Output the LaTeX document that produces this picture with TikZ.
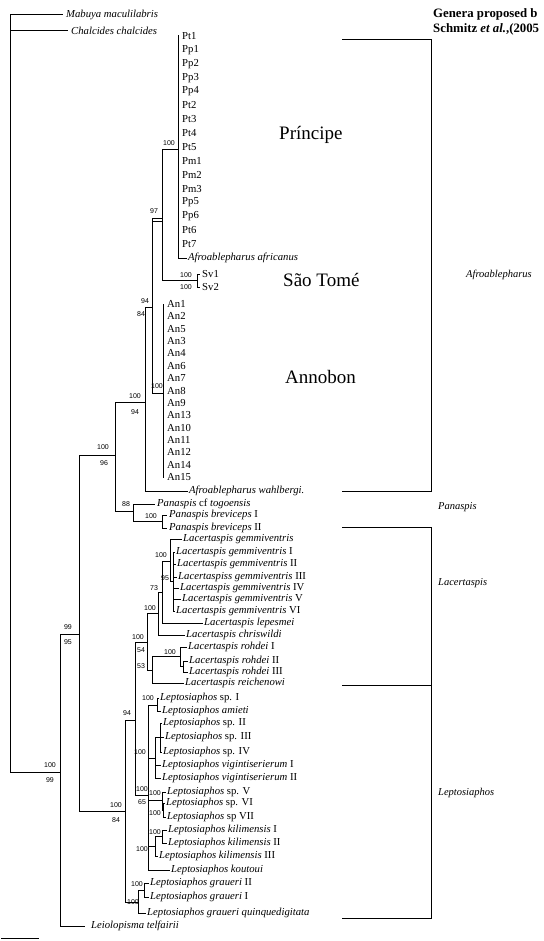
\documentclass[tikz,border=0pt]{standalone}
\usepackage{fontspec}
\setmainfont{Liberation Serif}
\newfontfamily\suppfont{Liberation Sans}
\usetikzlibrary{positioning}

\tikzset{
  branch/.style={line width=1pt, line cap=rect},
  leaf/.style={anchor=west, inner sep=0pt, font=\fontsize{10.7}{12}\selectfont},
  supp/.style={inner sep=0pt, font=\suppfont\fontsize{7}{8}\selectfont},
  island/.style={anchor=west, inner sep=0pt, font=\fontsize{19}{22}\selectfont},
  genus/.style={anchor=west, inner sep=0pt, font=\itshape\fontsize{10.5}{12}\selectfont},
  header/.style={anchor=west, inner sep=0pt, font=\bfseries\fontsize{12.8}{14}\selectfont},
}

\begin{document}
\begin{tikzpicture}[x=1pt,y=-1pt]
\useasboundingbox (0,0) rectangle (543,941);
\clip (0,0) rectangle (543,941);
\fill[white] (0,0) rectangle (543,941);

% internal nodes
\coordinate (root) at (10,400);
\coordinate (Q) at (60,772);
\coordinate (P) at (79,634);
\coordinate (T) at (115,455);
\coordinate (U) at (145,402);
\coordinate (V) at (152,307);
\coordinate (W) at (162,219);
\coordinate (X) at (178,150);
\coordinate (ST) at (197,280);
\coordinate (Z) at (163,393);
\coordinate (Pa) at (133,511);
\coordinate (Pb) at (162,521);
\coordinate (M) at (125,811);
\coordinate (N) at (135,720);
\coordinate (K) at (147,642);
\coordinate (K1) at (158,613);
\coordinate (K2) at (162,592);
\coordinate (K3) at (170,561);
\coordinate (K4) at (173,581);
\coordinate (R) at (152,670);
\coordinate (R1) at (180,656);
\coordinate (R2) at (183,666);
\coordinate (L) at (148,795);
\coordinate (A1) at (157,705);
\coordinate (B) at (155,758);
\coordinate (B1) at (160,737);
\coordinate (C) at (162,800);
\coordinate (C1) at (163,810);
\coordinate (D) at (155,846);
\coordinate (D1) at (162,836);
\coordinate (G) at (138,902);
\coordinate (G1) at (144,890);

% tips
\coordinate (mab) at (62,15);
\coordinate (chal) at (67,31);
\coordinate (leio) at (84,926);
\coordinate (wahl) at (187,491);
\coordinate (prtop) at (178,36);
\coordinate (afr) at (186,258);
\coordinate (sv1) at (199,274);
\coordinate (sv2) at (199,287);
\coordinate (antop) at (163,304);
\coordinate (anbot) at (163,477);
\coordinate (togo) at (154,504);
\coordinate (brI) at (166,515);
\coordinate (brII) at (166,528);
\coordinate (gem) at (181,539);
\coordinate (gI) at (174,552);
\coordinate (gII) at (175,564);
\coordinate (gIII) at (176,577);
\coordinate (gIV) at (178,588);
\coordinate (gV) at (180,599);
\coordinate (gVI) at (174,611);
\coordinate (lepe) at (202,623);
\coordinate (chris) at (184,635);
\coordinate (rohI) at (186,647);
\coordinate (rohII) at (187,661);
\coordinate (rohIII) at (187,672);
\coordinate (reich) at (183,683);
\coordinate (spI) at (158,698);
\coordinate (amie) at (160,711);
\coordinate (spII) at (161,723);
\coordinate (spIII) at (163,737);
\coordinate (spIV) at (161,752);
\coordinate (vigI) at (160,765);
\coordinate (vigII) at (160,778);
\coordinate (spV) at (165,792);
\coordinate (spVI) at (164,803);
\coordinate (spVII) at (165,817);
\coordinate (kilI) at (166,830);
\coordinate (kilII) at (166,843);
\coordinate (kilIII) at (157,856);
\coordinate (kout) at (169,870);
\coordinate (grII) at (148,883);
\coordinate (grI) at (148,897);
\coordinate (quinq) at (145,913);

% branches
\draw[branch] (root) |- (mab) (root) |- (chal) (root) |- (Q);
\draw[branch] (Q) |- (P) (Q) |- (leio);
\draw[branch] (P) |- (T) (P) |- (M);
\draw[branch] (T) |- (U) (T) |- (Pa);
\draw[branch] (U) |- (V) (U) |- (wahl);
\draw[branch] (V) |- (W) (V) |- (Z);
\draw[branch] (V |- W) ++(0,3) -- ++(10,0);
\draw[branch] (W) |- (X) (W) |- (ST);
\draw[branch] (X) -- (prtop) (X) |- (afr);
\draw[branch] (ST) |- (sv1) (ST) |- (sv2);
\draw[branch] (antop) -- (anbot);
\draw[branch] (Pa) |- (togo) (Pa) |- (Pb);
\draw[branch] (Pb) |- (brI) (Pb) |- (brII);
\draw[branch] (M) |- (N) (M) |- (G);
\draw[branch] (N) |- (K) (N) |- (L);
\draw[branch] (K) |- (K1) (K) |- (R);
\draw[branch] (K1) |- (K2) (K1) |- (chris);
\draw[branch] (K2) |- (K3) (K2) |- (lepe);
\draw[branch] (K3) |- (gem) (K3) |- (K4);
\foreach \t in {gI,gII,gIII,gIV,gV,gVI} \draw[branch] (K4) |- (\t);
\draw[branch] (R) |- (R1) (R) |- (reich);
\draw[branch] (R1) |- (rohI) (R1) |- (R2);
\draw[branch] (R2) |- (rohII) (R2) |- (rohIII);
\foreach \t in {A1,B,C,D,kout} \draw[branch] (L) |- (\t);
\draw[branch] (A1) |- (spI) (A1) |- (amie);
\foreach \t in {B1,vigI,vigII} \draw[branch] (B) |- (\t);
\foreach \t in {spII,spIII,spIV} \draw[branch] (B1) |- (\t);
\draw[branch] (C) |- (spV) (C) |- (C1);
\draw[branch] (C1) |- (spVI) (C1) |- (spVII);
\draw[branch] (D) |- (D1) (D) |- (kilIII);
\draw[branch] (D1) |- (kilI) (D1) |- (kilII);
\draw[branch] (G) |- (G1) (G) |- (quinq);
\draw[branch] (G1) |- (grII) (G1) |- (grI);

% leaf labels
\node[leaf, right=4pt of mab] (lmab) {\textit{Mabuya maculilabris}};
\node[leaf, right=4pt of chal] (lchal) {\textit{Chalcides chalcides}};
\foreach \lab [count=\i from 0] in {Pt1,Pp1,Pp2,Pp3,Pp4,Pt2,Pt3,Pt4,Pt5,Pm1,Pm2,Pm3,Pp5,Pp6,Pt6,Pt7}
  \node[leaf] (l\lab) at (182,{36+13.87*\i}) {\lab};
\node[leaf, right=2pt of afr] (lafr) {\textit{Afroablepharus africanus}};
\node[leaf, right=3pt of sv1] (lsv1) {Sv1};
\node[leaf, right=3pt of sv2] (lsv2) {Sv2};
\foreach \lab [count=\i from 0] in {An1,An2,An5,An3,An4,An6,An7,An8,An9,An13,An10,An11,An12,An14,An15}
  \node[leaf] (l\lab) at (167,{304+12.36*\i}) {\lab};
\node[leaf, right=2pt of wahl] (lwahl) {\textit{Afroablepharus wahlbergi.}};
\node[leaf, right=3pt of togo] (ltogo) {\textit{Panaspis} cf \textit{togoensis}};
\node[leaf, right=3pt of brI] (lbrI) {\textit{Panaspis breviceps} I};
\node[leaf, right=3pt of brII] (lbrII) {\textit{Panaspis breviceps} II};
\node[leaf, right=2pt of gem] (lgem) {\textit{Lacertaspis gemmiventris}};
\node[leaf, right=2pt of gI] (lgI) {\textit{Lacertaspis gemmiventris} I};
\node[leaf, right=2pt of gII] (lgII) {\textit{Lacertaspis gemmiventris} II};
\node[leaf, right=2pt of gIII] (lgIII) {\textit{Lacertaspiss gemmiventris} III};
\node[leaf, right=2pt of gIV] (lgIV) {\textit{Lacertaspis gemmiventris} IV};
\node[leaf, right=2pt of gV] (lgV) {\textit{Lacertaspis gemmiventris} V};
\node[leaf, right=2pt of gVI] (lgVI) {\textit{Lacertaspis gemmiventris} VI};
\node[leaf, right=2pt of lepe] (llepe) {\textit{Lacertaspis lepesmei}};
\node[leaf, right=2pt of chris] (lchris) {\textit{Lacertaspis chriswildi}};
\node[leaf, right=2pt of rohI] (lrohI) {\textit{Lacertaspis rohdei} I};
\node[leaf, right=2pt of rohII] (lrohII) {\textit{Lacertaspis rohdei} II};
\node[leaf, right=2pt of rohIII] (lrohIII) {\textit{Lacertaspis rohdei} III};
\node[leaf, right=2pt of reich] (lreich) {\textit{Lacertaspis reichenowi}};
\node[leaf, right=2pt of spI] (lspI) {\textit{Leptosiaphos} sp. I};
\node[leaf, right=2pt of amie] (lamie) {\textit{Leptosiaphos amieti}};
\node[leaf, right=2pt of spII] (lspII) {\textit{Leptosiaphos} sp. II};
\node[leaf, right=2pt of spIII] (lspIII) {\textit{Leptosiaphos} sp. III};
\node[leaf, right=2pt of spIV] (lspIV) {\textit{Leptosiaphos} sp. IV};
\node[leaf, right=2pt of vigI] (lvigI) {\textit{Leptosiaphos vigintiserierum} I};
\node[leaf, right=2pt of vigII] (lvigII) {\textit{Leptosiaphos vigintiserierum} II};
\node[leaf, right=2pt of spV] (lspV) {\textit{Leptosiaphos} sp. V};
\node[leaf, right=2pt of spVI] (lspVI) {\textit{Leptosiaphos} sp. VI};
\node[leaf, right=2pt of spVII] (lspVII) {\textit{Leptosiaphos} sp VII};
\node[leaf, right=2pt of kilI] (lkilI) {\textit{Leptosiaphos kilimensis} I};
\node[leaf, right=2pt of kilII] (lkilII) {\textit{Leptosiaphos kilimensis} II};
\node[leaf, right=2pt of kilIII] (lkilIII) {\textit{Leptosiaphos kilimensis} III};
\node[leaf, right=2pt of kout] (lkout) {\textit{Leptosiaphos koutoui}};
\node[leaf, right=2pt of grII] (lgrII) {\textit{Leptosiaphos graueri} II};
\node[leaf, right=2pt of grI] (lgrI) {\textit{Leptosiaphos graueri} I};
\node[leaf, right=2pt of quinq] (lquinq) {\textit{Leptosiaphos graueri quinquedigitata}};
\node[leaf, right=7pt of leio] (lleio) {\textit{Leiolopisma telfairii}};

% support values
\node[supp] (sX) at (169,143) {100};
\node[supp] (sW) at (154,211) {97};
\node[supp] (sST1) at (186,275) {100};
\node[supp] (sST2) at (186,287) {100};
\node[supp] (sV1) at (145,301) {94};
\node[supp] (sV2) at (141,314) {84};
\node[supp] (sZ) at (157,386) {100};
\node[supp] (sU1) at (135,396) {100};
\node[supp] (sU2) at (135,412) {94};
\node[supp] (sT1) at (103,447) {100};
\node[supp] (sT2) at (104,463) {96};
\node[supp] (sPa) at (126,504) {88};
\node[supp] (sPb) at (151,516) {100};
\node[supp] (sK3) at (161,555) {100};
\node[supp] (sK4) at (165,578) {95};
\node[supp] (sK2) at (154,588) {73};
\node[supp] (sK1) at (150,608) {100};
\node[supp] (sK) at (138,637) {100};
\node[supp] (sK') at (141,650) {54};
\node[supp] (sR) at (141,666) {53};
\node[supp] (sR1) at (170,652) {100};
\node[supp] (sN) at (127,713) {94};
\node[supp] (sA1) at (148,698) {100};
\node[supp] (sB) at (140,752) {100};
\node[supp] (sL1) at (142,789) {100};
\node[supp] (sL2) at (142,802) {65};
\node[supp] (sC) at (155,793) {100};
\node[supp] (sC1) at (155,813) {100};
\node[supp] (sD1) at (155,832) {100};
\node[supp] (sD) at (142,849) {100};
\node[supp] (sG1) at (137,884) {100};
\node[supp] (sG) at (133,902) {100};
\node[supp] (sM1) at (116,805) {100};
\node[supp] (sM2) at (116,820) {84};
\node[supp] (sP1) at (68,627) {99};
\node[supp] (sP2) at (68,642) {95};
\node[supp] (sQ1) at (50,765) {100};
\node[supp] (sQ2) at (50,780) {99};

% islands
\node[island] (prin) at (279,135) {Príncipe};
\node[island] (stome) at (283,280) {São Tomé};
\node[island] (anno) at (285,377) {Annobon};

% genus brackets
\coordinate (brx) at (431,0);
\coordinate (af1) at (342,39);
\coordinate (af2) at (342,491);
\coordinate (la1) at (342,527);
\coordinate (la2) at (342,685);
\coordinate (le2) at (342,918);
\draw[line width=0.8pt] (af1) -| (brx |- af2) -- (af2);
\draw[line width=0.8pt] (la1) -| (brx |- la2) -- (la2);
\draw[line width=0.8pt] (brx |- la2) |- (le2);
\node[genus] (gAfro) at (466,275) {Afroablepharus};
\node[genus] (gPan) at (438,507) {Panaspis};
\node[genus] (gLac) at (438,583) {Lacertaspis};
\node[genus] (gLep) at (438,793) {Leptosiaphos};
\node[header] (head1) at (433,14) {Genera proposed b};
\node[header] (head2) at (433,29) {Schmitz \textit{et al.},(2005};

% scale bar
\coordinate (sb1) at (1,938);
\coordinate (sb2) at (38,938);
\draw[branch] (sb1) -- (sb2);
\end{tikzpicture}
\end{document}
